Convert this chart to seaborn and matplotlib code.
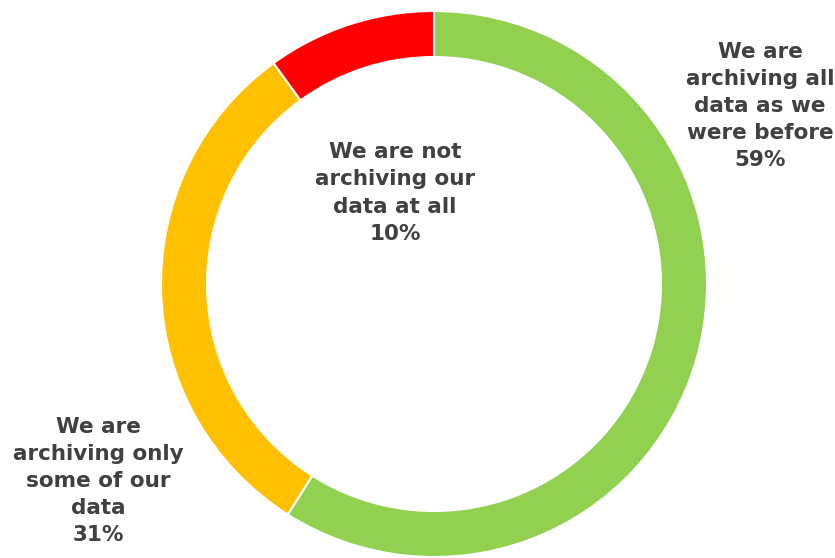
import matplotlib
matplotlib.use("Agg")
import matplotlib.pyplot as plt
import seaborn as sns

# data
categories = ["We are\narchiving all\ndata as we\nwere before",
              "We are\narchiving only\nsome of our\ndata",
              "We are not\narchiving our\ndata at all"]
shares = [59, 31, 10]
colors = ["#92D050", "#FFC000", "#FF0000"]

sns.set_theme(style="white")
plt.rcParams['font.family'] = ['DejaVu Sans']

fig = plt.figure(figsize=(8.35, 5.58), dpi=100)
ax = fig.add_axes([0, 0, 1, 1])

# donut, drawn clockwise from 12 o'clock
ax.pie(shares, colors=colors, startangle=90, counterclock=False,
       center=(434, 558 - 284), radius=273,
       wedgeprops=dict(width=46, edgecolor="white", linewidth=1.5))

ax.set_xlim(0, 835)
ax.set_ylim(0, 558)
ax.set_aspect("equal")
ax.axis("off")

# label positions (pixels from top-left)
label_pos = [(760, 106), (98, 481), (395, 193)]
for name, val, (x, y) in zip(categories, shares, label_pos):
    ax.text(x, 558 - y, f"{name}\n{val}%", ha="center", va="center",
            fontsize=15.5, fontweight="bold", color="#404040",
            linespacing=1.45)

fig.savefig("out.png", dpi=100)
